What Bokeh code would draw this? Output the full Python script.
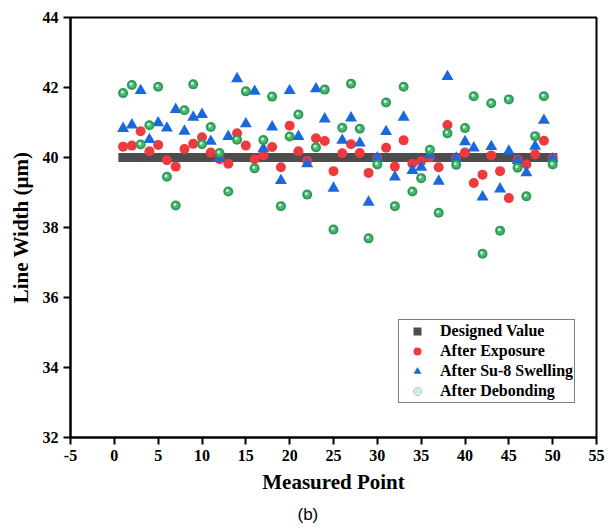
from bokeh.plotting import figure
from bokeh.models import FixedTicker, Legend, LegendItem, Title, Range1d
from bokeh.embed import file_html
from bokeh.resources import INLINE

# ---------------- data ----------------
points = list(range(1, 51))
designed = [40.0] * 50
exposure = [40.31, 40.34, 40.75, 40.18, 40.36, 39.92, 39.74, 40.24, 40.39, 40.58,
            40.14, 39.95, 39.82, 40.69, 40.34, 39.95, 40.06, 40.30, 39.72, 40.91,
            40.18, 39.91, 40.55, 40.47, 39.61, 40.12, 40.38, 40.13, 39.56, 39.98,
            40.28, 39.74, 40.49, 39.82, 39.89, 40.01, 39.72, 40.93, 39.98, 40.14,
            39.27, 39.51, 40.06, 39.61, 38.84, 39.94, 39.80, 40.09, 40.48, 39.98]
swelling = [40.83, 40.93, 41.91, 40.51, 40.99, 40.84, 41.37, 40.75, 41.15, 41.23,
            40.46, 39.97, 40.60, 42.25, 40.96, 41.89, 40.25, 40.87, 39.34, 41.91,
            40.60, 39.82, 41.96, 41.10, 39.12, 40.49, 41.13, 40.41, 38.72, 39.99,
            40.74, 39.44, 41.15, 39.63, 39.72, 40.08, 39.32, 42.31, 39.98, 40.45,
            40.27, 38.87, 40.31, 39.10, 40.18, 39.91, 39.56, 40.32, 41.06, 39.96]
debonding = [41.84, 42.07, 40.37, 40.92, 42.02, 39.45, 38.63, 41.35, 42.09, 40.38,
             40.87, 40.13, 39.03, 40.51, 41.89, 39.69, 40.50, 41.74, 38.61, 40.60,
             41.23, 38.94, 40.29, 41.94, 37.94, 40.85, 42.11, 40.82, 37.69, 39.80,
             41.57, 38.61, 42.02, 39.03, 39.41, 40.22, 38.42, 40.69, 39.79, 40.84,
             41.75, 37.25, 41.55, 37.91, 41.66, 39.71, 38.89, 40.61, 41.75, 39.80]
x_ticks = [-5, 0, 5, 10, 15, 20, 25, 30, 35, 40, 45, 50, 55]
y_ticks = [32, 34, 36, 38, 40, 42, 44]

SERIF = "Liberation Serif"

p = figure(width=616, height=532, output_backend="svg", toolbar_location=None,
           x_range=Range1d(-5, 55), y_range=Range1d(32, 44),
           min_border_left=70, min_border_right=20, min_border_top=17,
           min_border_bottom=95)

p.xgrid.visible = False
p.ygrid.visible = False
p.outline_line_color = "black"
p.outline_line_width = 2
p.background_fill_color = "white"
p.border_fill_color = "white"

for ax in (p.xaxis[0], p.yaxis[0]):
    ax.axis_line_width = 2
    ax.axis_line_color = "black"
    ax.major_tick_line_width = 2
    ax.major_tick_line_color = "black"
    ax.major_tick_out = 7
    ax.major_tick_in = 0
    ax.minor_tick_line_color = None
    ax.major_label_text_font = SERIF
    ax.major_label_text_font_style = "bold"
    ax.major_label_text_font_size = "16px"
    ax.major_label_text_color = "black"
    ax.axis_label_text_font = SERIF
    ax.axis_label_text_font_style = "bold"
    ax.axis_label_text_font_size = "21px"
    ax.axis_label_text_color = "black"
    ax.major_label_standoff = 5

p.xaxis[0].ticker = FixedTicker(ticks=x_ticks)
p.xaxis[0].major_label_overrides = {t: str(t) for t in x_ticks}
p.yaxis[0].ticker = FixedTicker(ticks=y_ticks)
p.xaxis[0].axis_label = "Measured Point"
p.yaxis[0].axis_label = "Line Width (μm)"
p.xaxis[0].axis_label_standoff = 6
p.yaxis[0].axis_label_standoff = 7

p.line(points, designed, line_width=9, line_color="#4d4d4d", line_cap="square")
r_des = p.scatter(points, designed, marker="square", size=9,
                  fill_color="#4d4d4d", line_color=None)
r_exp = p.scatter(points, exposure, marker="circle", size=10,
                  fill_color="#ee3a3f", line_color=None)
r_swl = p.scatter(points, swelling, marker="triangle", size=12,
                  fill_color="#1a68dc", line_color=None)
r_deb = p.scatter(points, debonding, marker="circle", size=10,
                  fill_color="#2e9b57", line_color=None)
r_deb2 = p.scatter(points, debonding, marker="circle", size=6,
                   fill_color="#4dbb75", line_color=None)
hx = [v - 0.1 for v in points]
hy = [v + 0.03 for v in debonding]
r_deb3 = p.scatter(hx, hy, marker="circle", size=3,
                   fill_color="#ffffff", fill_alpha=0.75, line_color=None)

legend = Legend(items=[
    LegendItem(label="Designed Value", renderers=[r_des]),
    LegendItem(label="After Exposure", renderers=[r_exp]),
    LegendItem(label="After Su-8 Swelling", renderers=[r_swl]),
    LegendItem(label="After Debonding", renderers=[r_deb, r_deb2, r_deb3]),
], location=(328, 34), border_line_color="black", border_line_width=1,
    label_text_font=SERIF, label_text_font_style="bold",
    label_text_font_size="16px", label_text_color="black",
    glyph_width=34, glyph_height=20,
    label_height=20, spacing=0, padding=1, margin=0, label_standoff=6,
    background_fill_color="white", background_fill_alpha=1)
p.add_layout(legend)

p.add_layout(Title(text="(b)", align="left", text_font="Liberation Sans",
                   text_font_size="17px", text_font_style="normal",
                   text_color="black", offset=227, standoff=12), "below")

open("out.html", "w").write(file_html(p, INLINE))
